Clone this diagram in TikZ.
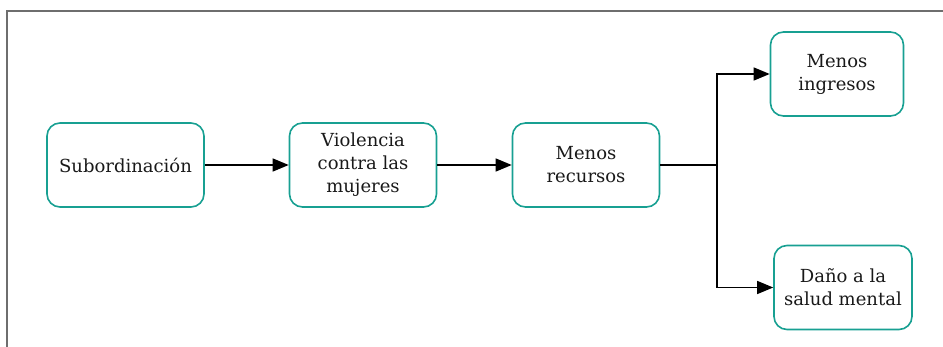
\documentclass[tikz,border=0pt]{standalone}
\usepackage{fontspec}
\setmainfont{DejaVu Serif}
\usetikzlibrary{arrows.meta}
\definecolor{boxteal}{RGB}{24,160,146}
\definecolor{framegray}{RGB}{110,110,110}
\tikzset{
	causebox/.style={draw=boxteal, line width=1.6pt, rounded corners=13pt, align=center,
		inner sep=0pt, text=black!90, font=\fontsize{18}{23}\selectfont},
	causearrow/.style={line width=1.3pt, -{Triangle[length=16pt,width=13pt]}}
}

\begin{document}
\begin{tikzpicture}[x=1pt, y=-1pt]
		%%%%% START %%%%%
		\useasboundingbox (0, 0) rectangle (943, 347);
		\draw[framegray, line width=1.3pt] (7, 347) -- (7, 11) -- (943, 11);
		
		\node[causebox, minimum width=157pt, minimum height=84pt] (sub) at (125.5, 165) {Subordinación};
		\node[causebox, minimum width=147pt, minimum height=84pt] (vio) at (363, 165) {Violencia\\contra las\\mujeres};
		\node[causebox, minimum width=147pt, minimum height=84pt] (rec) at (586, 165) {Menos\\recursos};
		\node[causebox, minimum width=133pt, minimum height=84pt] (ing) at (837, 74) {Menos\\ingresos};
		\node[causebox, minimum width=138pt, minimum height=84pt] (dan) at (843, 287.5) {Daño a la\\salud mental};
		
		\coordinate (split) at (717, 165);
		
		\draw[causearrow] (sub) -- (vio);
		\draw[causearrow] (vio) -- (rec);
		\draw[line width=1.3pt] (rec) -- (split);
		\draw[causearrow] (split) |- (ing);
		\draw[causearrow] (split) |- (dan);
		%%%%% END %%%%%
	\end{tikzpicture}
\end{document}
